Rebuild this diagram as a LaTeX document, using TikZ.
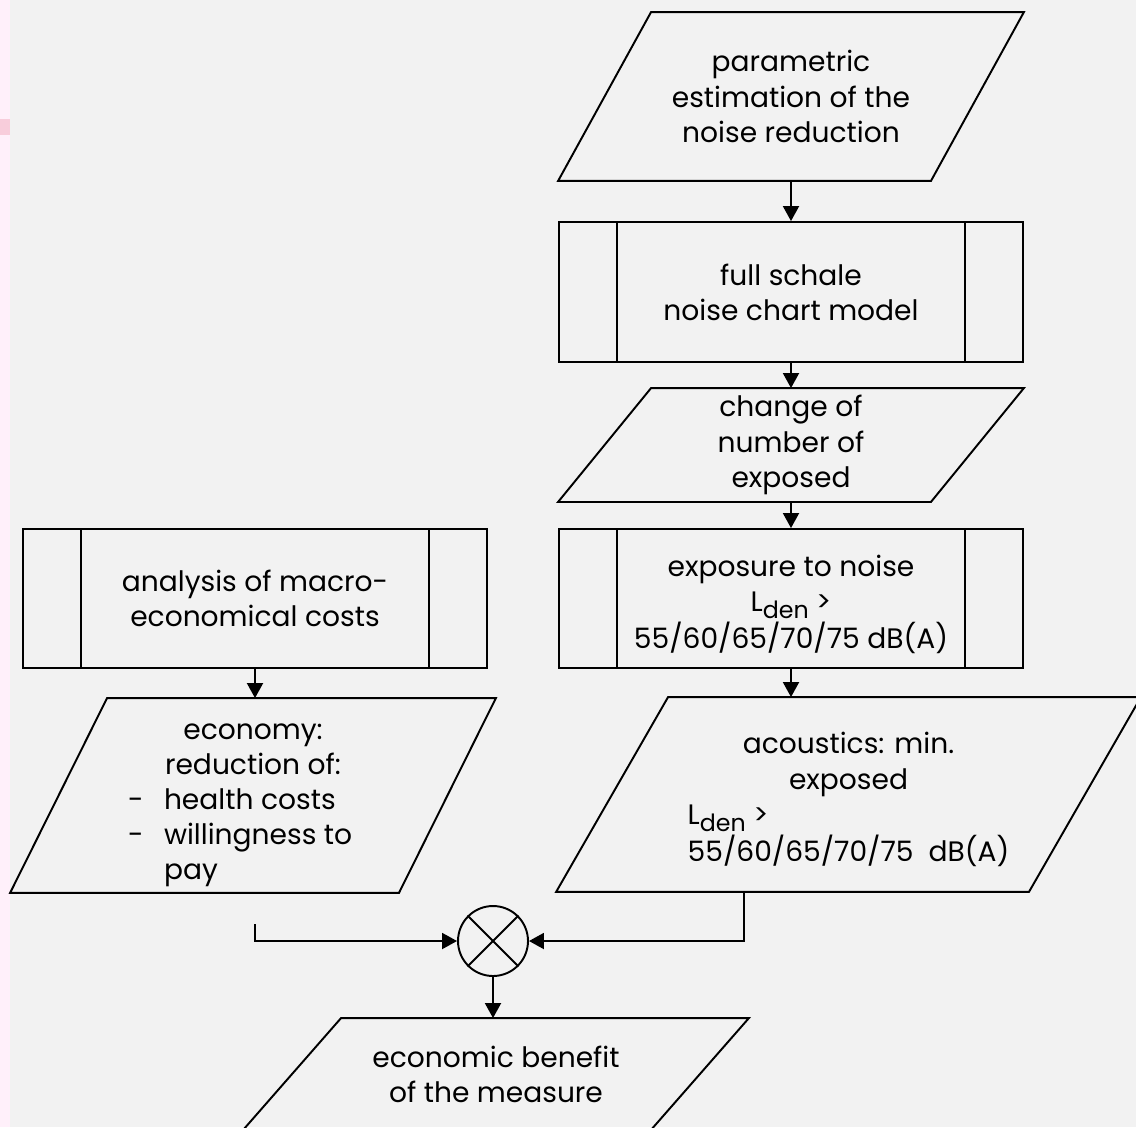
\documentclass[tikz,border=0pt]{standalone}
\usepackage{fontspec}
\setmainfont{Poppins}
\usetikzlibrary{arrows.meta}
\definecolor{hintergrund}{HTML}{F2F2F2}
\definecolor{randrosa}{HTML}{FFF0FA}
\definecolor{markerrosa}{HTML}{F8CDDB}
\newcommand{\Lden}{L\raisebox{-0.45ex}{\fontsize{13.5}{14}\selectfont den}}
% Text im Knoten um #1/2 nach unten schieben
\newcommand{\tiefer}[2]{\raisebox{0pt}[\dimexpr\height+#1\relax]{#2}}
\begin{document}
\begin{tikzpicture}[x=0.02cm, y=-0.02cm, line width=1.1pt,
    font=\fontsize{16}{20}\selectfont,
    pfeil/.style={-{Triangle[length=0.3cm, width=0.32cm]}},
    daten/.style={inner sep=0pt, align=center},
    unterprog/.style={draw, inner sep=0pt, align=center, minimum width=9.28cm}]
  % Hintergrund
  \useasboundingbox (0,0) rectangle (1136,1127);
  \clip (0,0) rectangle (1136,1127);
  \fill[hintergrund] (0,0) rectangle (1136,1127);
  \fill[randrosa] (0,0) rectangle (10,1127);
  \fill[markerrosa] (0,119) rectangle (10,135);

  % Rechte Spalte
  \node[daten, minimum width=9.28cm, minimum height=3.34cm] (param) at (791,96.5)
    {parametric\\ estimation of the\\ noise reduction};
  \node[unterprog, minimum height=2.8cm] (modell) at (791,292)
    {full schale\\ noise chart model};
  \node[daten, minimum width=9.28cm, minimum height=2.24cm] (change) at (791,445)
    {change of\\ number of\\ exposed};
  \node[unterprog, minimum height=2.78cm] (exposition) at (791,598.5)
    {\tiefer{0.28cm}{\begin{tabular}{@{}c@{}}
       exposure to noise\\ \Lden\ >\\ 55/60/65/70/75 dB(A)
     \end{tabular}}};
  \node[daten, minimum width=11.66cm, minimum height=3.86cm] (acoustics) at (848.5,794.5)
    {\tiefer{0.24cm}{\begin{tabular}{@{}l@{}}
       \multicolumn{1}{@{}c@{}}{acoustics: min.}\\
       \multicolumn{1}{@{}c@{}}{exposed}\\
       \Lden\ >\\
       55/60/65/70/75~~dB(A)
     \end{tabular}}};

  % Linke Spalte
  \node[unterprog, minimum height=2.78cm] (analyse) at (255,598.5)
    {analysis of macro-\\ economical costs};
  \node[daten, minimum width=9.68cm, minimum height=3.86cm] (economy) at (253,795.5)
    {\tiefer{0.28cm}{\begin{tabular}{@{}p{0.72cm}@{}p{4.28cm}@{}}
       \multicolumn{2}{@{}c@{}}{economy:}\\
       \multicolumn{2}{@{}c@{}}{reduction of:}\\
       - & health costs\\
       - & willingness to\\
         & pay
     \end{tabular}}};

  % Verknuepfung und Ergebnis
  \node[draw, circle, minimum size=1.4cm, inner sep=0pt] (mult) at (493,941) {};
  \node[daten, minimum width=10.08cm, minimum height=2.2cm] (benefit) at (496,1074)
    {economic benefit\\ of the measure};
  \coordinate (lstub) at (255,924);
  \coordinate (aus) at (744,891);

  % Parallelogramme
  \foreach \n/\d in {param/1.86, change/1.86, acoustics/2.24, economy/1.94, benefit/1.96}
    \draw ([xshift=\d cm]\n.north west) -- (\n.north east)
      -- ([xshift=-\d cm]\n.south east) -- (\n.south west) -- cycle;
  % Unterprogramm-Balken
  \foreach \n in {modell, exposition, analyse}
    \draw ([xshift=1.18cm]\n.north west) -- ([xshift=1.18cm]\n.south west)
      ([xshift=-1.18cm]\n.north east) -- ([xshift=-1.18cm]\n.south east);
  \draw (mult.north west) -- (mult.south east)
    (mult.north east) -- (mult.south west);

  % Pfeile
  \draw[pfeil] (param.south) -- (modell.north);
  \draw[pfeil] (modell.south) -- (change.north);
  \draw[pfeil] (change.south) -- (exposition.north);
  \draw[pfeil] (exposition.south) -- (exposition.south |- acoustics.north);
  \draw[pfeil] (analyse.south) -- (analyse.south |- economy.north);
  \draw[pfeil] (lstub) |- (mult.west);
  \draw[pfeil] (aus) |- (mult.east);
  \draw[pfeil] (mult.south) -- (mult.south |- benefit.north);
\end{tikzpicture}
\end{document}
